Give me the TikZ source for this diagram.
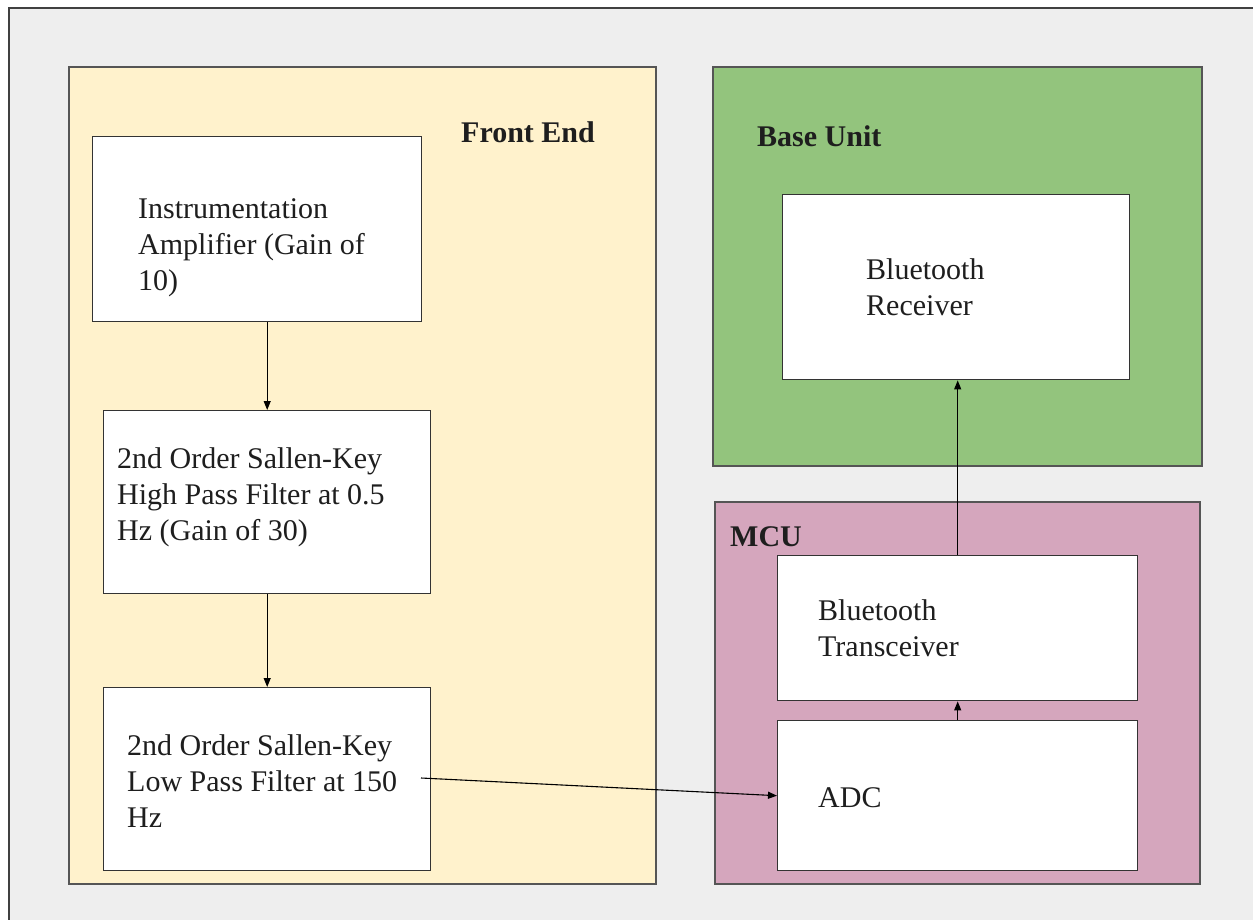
\documentclass[tikz,border=0pt]{standalone}
\usepackage{fontspec}
\setmainfont{Liberation Serif}
\usetikzlibrary{arrows.meta}
\definecolor{pagegray}{HTML}{EEEEEE}
\definecolor{frontfill}{HTML}{FFF2CC}
\definecolor{basefill}{HTML}{93C47D}
\definecolor{mcufill}{HTML}{D5A6BD}
\definecolor{edge}{HTML}{555555}
\definecolor{ink}{HTML}{1E1E1E}
\tikzset{
  region/.style={draw=edge, line width=1.8pt, inner sep=0pt, anchor=north west},
  block/.style={draw=black!80, line width=1.4pt, fill=white, inner sep=0pt, anchor=north west},
  lbl/.style={anchor=west, inner sep=0pt, align=left, text=ink, font=\fontsize{30}{36}\selectfont},
  title/.style={anchor=west, inner sep=0pt, text=ink, font=\fontsize{30}{36}\selectfont\bfseries},
  arr/.style={draw=black, line width=1.1pt, -{Triangle[length=9pt,width=7pt]}}
}
\begin{document}
\begin{tikzpicture}[x=1pt,y=-1pt]
\useasboundingbox (0,0) rectangle (1253,920);
\fill[white] (0,0) rectangle (1253,920);
\clip (0,0) rectangle (1253,920);
% page frame
\draw[draw=black!75, line width=2pt, fill=pagegray] (9,8) rectangle (1280,950);

% regions
\node[region, fill=frontfill, minimum width=587pt, minimum height=817pt] (front) at (68,66) {};
\node[region, fill=basefill, minimum width=489pt, minimum height=399pt] (base) at (712,66) {};
\node[region, fill=mcufill, minimum width=485pt, minimum height=382pt] (mcu) at (714,501) {};

\node[title] (tfront) at (461,132) {Front End};
\node[title] (tbase) at (757,136) {Base Unit};
\node[title] (tmcu) at (730,537) {MCU};

% front-end chain
\node[block, minimum width=329pt, minimum height=185pt] (amp) at (92,136) {};
\node[block, minimum width=327pt, minimum height=183pt] (hpf) at (103,410) {};
\node[block, minimum width=327pt, minimum height=183pt] (lpf) at (103,687) {};

\node[lbl] (tamp) at (138,248) {Instrumentation\\Amplifier (Gain of\\10)};
\node[lbl] (thpf) at (117,497) {2nd Order Sallen-Key\\High Pass Filter at 0.5\\Hz (Gain of 30)};
\node[lbl] (tlpf) at (127,781) {2nd Order Sallen-Key\\Low Pass Filter at 150\\Hz};

% base unit and MCU blocks
\node[block, minimum width=347pt, minimum height=185pt] (rx) at (782,194) {};
\node[block, minimum width=360pt, minimum height=145pt] (bt) at (777,555) {};
\node[block, minimum width=360pt, minimum height=150pt] (adc) at (777,720) {};

\node[lbl] (trx) at (866,287) {Bluetooth\\Receiver};
\node[lbl] (tbt) at (818,628) {Bluetooth\\Transceiver};
\node[lbl] (tadc) at (818,798) {ADC};

% signal path
\draw[arr] (amp.south -| hpf.north) -- (hpf.north);
\draw[arr] (hpf.south) -- (lpf.north);
\coordinate (lpfout) at (421,778);
\draw[arr] (lpfout) -- (adc.west);
\draw[arr] (adc.north) -- (bt.south);
\draw[arr] (bt.north) -- (bt.north |- rx.south);
\end{tikzpicture}
\end{document}
